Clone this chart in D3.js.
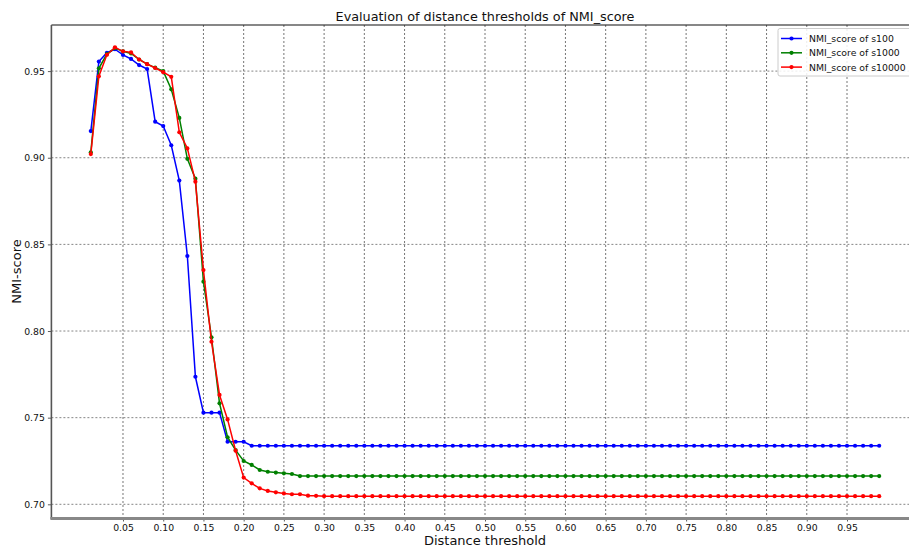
<!DOCTYPE html>
<html><head><meta charset="utf-8">
<script src="https://cdn.jsdelivr.net/npm/d3@7/dist/d3.min.js"></script>
<style>
html,body{margin:0;padding:0;background:#fff;overflow:hidden}
text{font-family:"DejaVu Sans",sans-serif}
</style></head>
<body><svg id="c" width="909" height="547"></svg>
<script>
const thresholds = [
0.01,0.02,0.03,0.04,0.05,0.06,0.07,0.08,0.09,0.10,
0.11,0.12,0.13,0.14,0.15,0.16,0.17,0.18,0.19,0.20,
0.21,0.22,0.23,0.24,0.25,0.26,0.27,0.28,0.29,0.30,
0.31,0.32,0.33,0.34,0.35,0.36,0.37,0.38,0.39,0.40,
0.41,0.42,0.43,0.44,0.45,0.46,0.47,0.48,0.49,0.50,
0.51,0.52,0.53,0.54,0.55,0.56,0.57,0.58,0.59,0.60,
0.61,0.62,0.63,0.64,0.65,0.66,0.67,0.68,0.69,0.70,
0.71,0.72,0.73,0.74,0.75,0.76,0.77,0.78,0.79,0.80,
0.81,0.82,0.83,0.84,0.85,0.86,0.87,0.88,0.89,0.90,
0.91,0.92,0.93,0.94,0.95,0.96,0.97,0.98,0.99];

const s100 = [
0.9154,0.9555,0.9606,0.9626,0.9593,0.9570,0.9535,0.9512,0.9208,0.9183,
0.9072,0.8868,0.8433,0.7736,0.7529,0.7529,0.7529,0.7361,0.7361,0.7361,
0.7338,0.7338,0.7338,0.7338,0.7338,0.7338,0.7338,0.7338,0.7338,0.7338,
0.7338,0.7338,0.7338,0.7338,0.7338,0.7338,0.7338,0.7338,0.7338,0.7338,
0.7338,0.7338,0.7338,0.7338,0.7338,0.7338,0.7338,0.7338,0.7338,0.7338,
0.7338,0.7338,0.7338,0.7338,0.7338,0.7338,0.7338,0.7338,0.7338,0.7338,
0.7338,0.7338,0.7338,0.7338,0.7338,0.7338,0.7338,0.7338,0.7338,0.7338,
0.7338,0.7338,0.7338,0.7338,0.7338,0.7338,0.7338,0.7338,0.7338,0.7338,
0.7338,0.7338,0.7338,0.7338,0.7338,0.7338,0.7338,0.7338,0.7338,0.7338,
0.7338,0.7338,0.7338,0.7338,0.7338,0.7338,0.7338,0.7338,0.7338];

const s1000 = [
0.9031,0.9516,0.9598,0.9633,0.9614,0.9602,0.9567,0.9540,0.9520,0.9500,
0.9395,0.9230,0.8994,0.8879,0.8285,0.7964,0.7583,0.7387,0.7313,0.7250,
0.7227,0.7198,0.7188,0.7183,0.7179,0.7175,0.7163,0.7163,0.7163,0.7163,
0.7163,0.7163,0.7163,0.7163,0.7163,0.7163,0.7163,0.7163,0.7163,0.7163,
0.7163,0.7163,0.7163,0.7163,0.7163,0.7163,0.7163,0.7163,0.7163,0.7163,
0.7163,0.7163,0.7163,0.7163,0.7163,0.7163,0.7163,0.7163,0.7163,0.7163,
0.7163,0.7163,0.7163,0.7163,0.7163,0.7163,0.7163,0.7163,0.7163,0.7163,
0.7163,0.7163,0.7163,0.7163,0.7163,0.7163,0.7163,0.7163,0.7163,0.7163,
0.7163,0.7163,0.7163,0.7163,0.7163,0.7163,0.7163,0.7163,0.7163,0.7163,
0.7163,0.7163,0.7163,0.7163,0.7163,0.7163,0.7163,0.7163,0.7163];

const s10000 = [
0.9021,0.9470,0.9594,0.9637,0.9614,0.9608,0.9567,0.9540,0.9518,0.9494,
0.9467,0.9147,0.9054,0.8862,0.8352,0.7938,0.7631,0.7490,0.7309,0.7154,
0.7121,0.7092,0.7077,0.7069,0.7063,0.7058,0.7058,0.7050,0.7049,0.7047,
0.7047,0.7047,0.7047,0.7047,0.7047,0.7047,0.7047,0.7047,0.7047,0.7047,
0.7047,0.7047,0.7047,0.7047,0.7047,0.7047,0.7047,0.7047,0.7047,0.7047,
0.7047,0.7047,0.7047,0.7047,0.7047,0.7047,0.7047,0.7047,0.7047,0.7047,
0.7047,0.7047,0.7047,0.7047,0.7047,0.7047,0.7047,0.7047,0.7047,0.7047,
0.7047,0.7047,0.7047,0.7047,0.7047,0.7047,0.7047,0.7047,0.7047,0.7047,
0.7047,0.7047,0.7047,0.7047,0.7047,0.7047,0.7047,0.7047,0.7047,0.7047,
0.7047,0.7047,0.7047,0.7047,0.7047,0.7047,0.7047,0.7047,0.7047];

const seriesNames = ["NMI_score of s100","NMI_score of s1000","NMI_score of s10000"];
const xTicks = [0.05,0.10,0.15,0.20,0.25,0.30,0.35,0.40,0.45,0.50,0.55,0.60,0.65,0.70,0.75,0.80,0.85,0.90,0.95];
const yTicks = [0.70,0.75,0.80,0.85,0.90,0.95];
const titleText = "Evaluation of distance thresholds of NMI_score";
const xLabel = "Distance threshold";
const yLabel = "NMI-score";

const colors = ["#0000ff","#008000","#ff0000"];
const seriesData = [s100, s1000, s10000];

const svg = d3.select("#c");
const L = 51.4, R = 918.6, T = 25, B = 518;

const x = d3.scaleLinear().domain([-0.039, 1.039]).range([L, R]);
const y = d3.scaleLinear().domain([0.6921, 0.9766]).range([B, T]);

// grid
const grid = svg.append("g");
grid.selectAll("line.v").data(xTicks).join("line")
  .attr("x1", d => x(d)).attr("x2", d => x(d)).attr("y1", T).attr("y2", B)
  .attr("stroke", "#666").attr("stroke-width", 0.9).attr("stroke-dasharray", "2,2");
grid.selectAll("line.h").data(yTicks).join("line")
  .attr("y1", d => y(d)).attr("y2", d => y(d)).attr("x1", L).attr("x2", R)
  .attr("stroke", "#777").attr("stroke-width", 0.9).attr("stroke-dasharray", "2,2");

// axes
const xAxis = svg.append("g").attr("transform", `translate(0,${B})`)
  .call(d3.axisBottom(x).tickValues(xTicks).tickFormat(d3.format(".2f")).tickSize(3.5).tickPadding(3));
const yAxis = svg.append("g").attr("transform", `translate(${L},0)`)
  .call(d3.axisLeft(y).tickValues(yTicks).tickFormat(d3.format(".2f")).tickSize(3.5).tickPadding(3));
[xAxis, yAxis].forEach(a => {
  a.select(".domain").remove();
  a.selectAll(".tick line").attr("stroke", "#333").attr("stroke-width", 0.8);
  a.selectAll(".tick text").attr("font-size", "9.3px").attr("fill", "#111")
    .attr("font-family", "DejaVu Sans, sans-serif");
});

// series
const line = d3.line().x((d, i) => x(thresholds[i])).y(d => y(d));
seriesData.forEach((s, k) => {
  svg.append("path").datum(s).attr("d", line)
    .attr("fill", "none").attr("stroke", colors[k]).attr("stroke-width", 1.5);
  svg.append("g").selectAll("circle").data(s).join("circle")
    .attr("cx", (d, i) => x(thresholds[i])).attr("cy", d => y(d)).attr("r", 2.1)
    .attr("fill", colors[k]);
});

// spines
svg.append("line").attr("x1", L).attr("x2", R).attr("y1", T).attr("y2", T)
  .attr("stroke", "#111").attr("stroke-width", 1.2);
svg.append("line").attr("x1", L).attr("x2", L).attr("y1", T).attr("y2", B + 1)
  .attr("stroke", "#555").attr("stroke-width", 1.6);
svg.append("line").attr("x1", L - 1).attr("x2", R).attr("y1", B + 0.5).attr("y2", B + 0.5)
  .attr("stroke", "#888").attr("stroke-width", 3);

// title and labels
svg.append("text").attr("x", (L + R) / 2).attr("y", 21).attr("text-anchor", "middle")
  .attr("font-size", "12.8px").attr("fill", "#111").text(titleText);
svg.append("text").attr("x", (L + R) / 2).attr("y", 545).attr("text-anchor", "middle")
  .attr("font-size", "13px").attr("fill", "#111").text(xLabel);
svg.append("text").attr("transform", `translate(21,${(T + B) / 2}) rotate(-90)`)
  .attr("text-anchor", "middle").attr("font-size", "13px").attr("fill", "#111").text(yLabel);

// legend
const lg = svg.append("g");
lg.append("rect").attr("x", 778).attr("y", 28.5).attr("width", 140).attr("height", 47.5)
  .attr("rx", 2).attr("fill", "#fff").attr("fill-opacity", 0.85)
  .attr("stroke", "#ccc").attr("stroke-width", 1);
seriesNames.forEach((n, k) => {
  const yy = 38.5 + k * 14.3;
  lg.append("line").attr("x1", 781).attr("x2", 802).attr("y1", yy).attr("y2", yy)
    .attr("stroke", colors[k]).attr("stroke-width", 1.5);
  lg.append("circle").attr("cx", 791.5).attr("cy", yy).attr("r", 2.1).attr("fill", colors[k]);
  lg.append("text").attr("x", 809).attr("y", yy + 3.4).attr("font-size", "9.3px")
    .attr("fill", "#111").text(n);
});
</script></body></html>
